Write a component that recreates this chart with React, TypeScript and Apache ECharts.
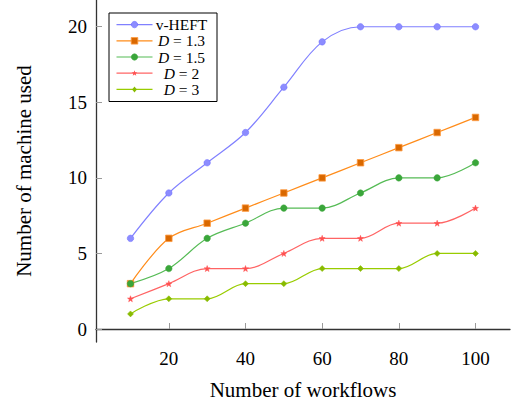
import React, { useEffect, useRef } from "react";
import * as echarts from "echarts";

const workflows = [10, 20, 30, 40, 50, 60, 70, 80, 90, 100];
const vHeft = [6, 9, 11, 13, 16, 19, 20, 20, 20, 20];
const d13 = [3, 6, 7, 8, 9, 10, 11, 12, 13, 14];
const d15 = [3, 4, 6, 7, 8, 8, 9, 10, 10, 11];
const d2 = [2, 3, 4, 4, 5, 6, 6, 7, 7, 8];
const d3 = [1, 2, 2, 3, 3, 4, 4, 4, 5, 5];
const xTicks = [20, 40, 60, 80, 100];
const yTicks = [0, 5, 10, 15, 20];
const seriesNames = ["v-HEFT", "D = 1.3", "D = 1.5", "D = 2", "D = 3"];
const seriesValues = [vHeft, d13, d15, d2, d3];

const FONT = "Liberation Serif";
const STAR =
  "path://M0,-10 L2.35,-3.24 L9.51,-3.09 L3.8,1.24 L5.88,8.09 L0,4 L-5.88,8.09 L-3.8,1.24 L-9.51,-3.09 L-2.35,-3.24 Z";

const styles = [
  { line: "#8080ff", fill: "#8c8cff", border: "#6a6aff", symbol: "circle", size: 6.5 },
  { line: "#ff8c1a", fill: "#d96800", border: "#ff9a40", symbol: "rect", size: 6.5 },
  { line: "#55bb55", fill: "#3aa63a", border: "#3aa63a", symbol: "circle", size: 6.5 },
  { line: "#ff6464", fill: "#ff5050", border: "#ff5050", symbol: STAR, size: 6 },
  { line: "#99cc00", fill: "#88bb00", border: "#88bb00", symbol: "diamond", size: 6 },
];

export default function App() {
  const ref = useRef<HTMLDivElement>(null);
  useEffect(() => {
    const chart = echarts.init(ref.current!, null, { renderer: "svg" });

    const legendChildren: any[] = [
      {
        type: "rect",
        shape: { x: 0, y: 0, width: 108, height: 88.5 },
        style: { fill: "#fff", stroke: "#000", lineWidth: 1 },
      },
    ];
    seriesNames.forEach((name, i) => {
      const y = 11.6 + 16.2 * i;
      const s = styles[i];
      legendChildren.push({
        type: "line",
        shape: { x1: 7.5, y1: y, x2: 43.5, y2: y },
        style: { stroke: s.line, lineWidth: 1.2 },
      });
      const mx = 25.5;
      if (i === 0 || i === 2) {
        legendChildren.push({
          type: "circle",
          shape: { cx: mx, cy: y, r: 3.2 },
          style: { fill: s.fill, stroke: s.border, lineWidth: 0.6 },
        });
      } else if (i === 1) {
        legendChildren.push({
          type: "rect",
          shape: { x: mx - 3.3, y: y - 3.3, width: 6.6, height: 6.6 },
          style: { fill: s.fill, stroke: s.border, lineWidth: 0.8 },
        });
      } else if (i === 3) {
        const pts: number[][] = [];
        for (let k = 0; k < 10; k++) {
          const r = k % 2 === 0 ? 3 : 1.2;
          const a = -Math.PI / 2 + (k * Math.PI) / 5;
          pts.push([mx + r * Math.cos(a), y + r * Math.sin(a)]);
        }
        legendChildren.push({
          type: "polygon",
          shape: { points: pts },
          style: { fill: s.fill },
        });
      } else {
        legendChildren.push({
          type: "polygon",
          shape: {
            points: [
              [mx, y - 3],
              [mx + 2.4, y],
              [mx, y + 3],
              [mx - 2.4, y],
            ],
          },
          style: { fill: s.fill },
        });
      }
      const isD = name.startsWith("D");
      legendChildren.push({
        type: "text",
        x: 72.5,
        y: y,
        style: {
          text: isD ? "{i|D}{n|" + name.slice(1) + "}" : "{n|" + name + "}",
          rich: {
            i: { fontStyle: "italic", fontFamily: FONT, fontSize: 15.5, lineHeight: 14, fill: "#000" },
            n: { fontFamily: FONT, fontSize: 15.5, lineHeight: 14, fill: "#000" },
          },
          fontFamily: FONT,
          fontSize: 15.5,
          lineHeight: 14,
          fill: "#000",
          align: "center",
          verticalAlign: "middle",
        },
      });
    });

    chart.setOption({
      animation: false,
      backgroundColor: "#fff",
      grid: { left: 96, right: 3, top: 0, bottom: 64 },
      xAxis: {
        type: "value",
        min: 1,
        max: 109,
        name: "Number of workflows",
        nameLocation: "middle",
        nameGap: 37,
        nameTextStyle: { fontFamily: FONT, fontSize: 21, color: "#000" },
        axisLine: { show: true, lineStyle: { color: "#333", width: 1.3 } },
        axisTick: {
          show: true,
          inside: true,
          length: 6,
          customValues: xTicks,
          lineStyle: { color: "#9a9a9a", width: 1 },
        },
        axisLabel: {
          customValues: xTicks,
          fontFamily: FONT,
          fontSize: 19,
          color: "#000",
          margin: 7,
        },
        splitLine: { show: false },
      },
      yAxis: {
        type: "value",
        min: -0.86,
        max: 21.77,
        name: "Number of machine used",
        nameLocation: "middle",
        nameGap: 62,
        nameRotate: 90,
        nameTextStyle: { fontFamily: FONT, fontSize: 21, color: "#000" },
        axisLine: { show: true, lineStyle: { color: "#333", width: 1.3 } },
        axisTick: {
          show: true,
          inside: true,
          length: 6,
          customValues: yTicks,
          lineStyle: { color: "#9a9a9a", width: 1 },
        },
        axisLabel: {
          customValues: yTicks,
          fontFamily: FONT,
          fontSize: 19,
          color: "#000",
          margin: 9,
        },
        splitLine: { show: false },
      },
      series: seriesNames.map((name, i) => ({
        name,
        type: "line",
        smooth: 0.35,
        data: workflows.map((x, j) => [x, seriesValues[i][j]]),
        symbol: styles[i].symbol,
        symbolSize: styles[i].size,
        showSymbol: true,
        lineStyle: { color: styles[i].line, width: 1.2 },
        itemStyle: {
          color: styles[i].fill,
          borderColor: styles[i].border,
          borderWidth: i === 1 ? 0.8 : 0.5,
        },
      })),
      graphic: [
        {
          type: "group",
          left: 108.5,
          top: 12.5,
          children: legendChildren,
        },
      ],
    });
    return () => chart.dispose();
  }, []);
  return (
    <div
      ref={ref}
      style={{ position: "fixed", left: 0, top: 0, width: 513, height: 406 }}
    />
  );
}
